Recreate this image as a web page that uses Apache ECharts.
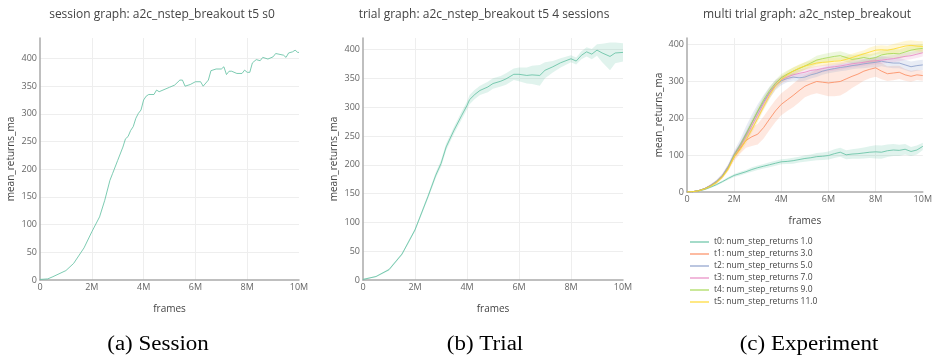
<!DOCTYPE html>
<html>
<head>
<meta charset="utf-8">
<script src="https://cdn.jsdelivr.net/npm/echarts@6/dist/echarts.min.js"></script>
<style>
  html, body { margin: 0; padding: 0; background: #fff; }
  #chart { width: 935px; height: 356px; }
</style>
</head>
<body>
<div id="chart"></div>
<script>
// x ticks (millions of frames)
const xTicks = [0, 2, 4, 6, 8, 10]
const xTickLabels = ['0', '2M', '4M', '6M', '8M', '10M']

// (a) session graph
const sessionX = [0, 0.3, 0.5, 1.0, 1.3, 1.7, 2.0, 2.3, 2.5, 2.7, 2.8, 2.9, 3.0, 3.05, 3.2, 3.3, 3.4, 3.5, 3.6, 3.7, 3.8, 3.9, 4.0, 4.1, 4.2, 4.4, 4.5, 4.6, 5.0, 5.2, 5.4, 5.5, 5.6, 5.8, 6.0, 6.2, 6.3, 6.5, 6.6, 6.8, 7.0, 7.1, 7.2, 7.3, 7.4, 7.6, 7.8, 7.9, 8.0, 8.1, 8.2, 8.35, 8.5, 8.6, 8.8, 9.0, 9.1, 9.4, 9.5, 9.6, 9.75, 9.85, 9.95, 10]
const sessionY = [1, 2, 6, 17, 30, 58, 87, 114, 144, 180, 192, 204, 216, 213, 240, 255, 259, 270, 277, 292, 301, 307, 325, 332, 335, 335, 343, 340, 348, 352, 361, 361, 350, 353, 358, 358, 350, 361, 378, 381, 381, 385, 371, 377, 377, 373, 373, 379, 375, 375, 392, 398, 396, 402, 399, 403, 409, 406, 402, 410, 412, 415, 411, 411]

// (b) trial graph: mean of 4 sessions and half width of the band
const trialX = [0, 0.5, 1.0, 1.5, 2.0, 2.5, 2.8, 3.0, 3.2, 3.5, 3.8, 4.0, 4.1, 4.3, 4.5, 4.8, 5.0, 5.3, 5.5, 5.8, 6.0, 6.3, 6.5, 6.8, 7.0, 7.3, 7.6, 8.0, 8.2, 8.4, 8.6, 8.8, 9.0, 9.2, 9.5, 9.7, 10]
const trialMean = [1, 6, 18, 45, 87, 145, 182, 202, 231, 260, 286, 303, 313, 322, 329, 335, 341, 345, 349, 357, 357, 355, 356, 355, 364, 370, 377, 384, 380, 390, 396, 392, 399, 394, 388, 394, 395]
const trialSpread = [1, 1, 2, 2, 3, 4, 5, 6, 6, 6, 7, 7, 8, 8, 8, 9, 9, 9, 10, 10, 12, 14, 16, 18, 14, 10, 8, 6, 6, 7, 8, 9, 10, 16, 24, 18, 16]

// (c) multi trial graph, every 0.25M frames
const expX = [0, 0.25, 0.5, 0.75, 1, 1.25, 1.5, 1.75, 2, 2.25, 2.5, 2.75, 3, 3.25, 3.5, 3.75, 4, 4.25, 4.5, 4.75, 5, 5.25, 5.5, 5.75, 6, 6.25, 6.5, 6.75, 7, 7.25, 7.5, 7.75, 8, 8.25, 8.5, 8.75, 9, 9.25, 9.5, 9.75, 10]
const expNames = ['t0: num_step_returns 1.0', 't1: num_step_returns 3.0', 't2: num_step_returns 5.0', 't3: num_step_returns 7.0', 't4: num_step_returns 9.0', 't5: num_step_returns 11.0']
const t0Mean = [0, 1, 3, 7, 13, 20, 28, 37, 45, 50, 55, 61, 66, 70, 74, 78, 82, 83, 85, 88, 91, 93, 96, 97, 99, 104, 108, 101, 103, 104, 106, 108, 109, 108, 112, 114, 113, 116, 110, 114, 124]
const t1Mean = [0, 1, 4, 9, 17, 27, 42, 65, 95, 118, 140, 150, 157, 175, 198, 220, 238, 250, 262, 275, 287, 294, 300, 298, 296, 298, 300, 307, 314, 320, 328, 333, 337, 328, 321, 323, 325, 318, 314, 318, 316]
const t2Mean = [0, 1, 4, 9, 18, 29, 45, 70, 102, 128, 158, 188, 218, 245, 270, 290, 302, 308, 312, 310, 312, 318, 322, 328, 332, 335, 338, 340, 343, 345, 348, 350, 352, 355, 352, 350, 350, 345, 340, 343, 345]
const t3Mean = [0, 1, 4, 9, 18, 28, 44, 68, 100, 122, 150, 180, 210, 240, 268, 290, 305, 312, 318, 322, 325, 330, 332, 335, 338, 340, 342, 345, 348, 350, 352, 355, 356, 358, 360, 362, 365, 368, 370, 374, 378]
const t4Mean = [0, 1, 4, 9, 17, 28, 43, 67, 100, 125, 155, 188, 220, 250, 275, 295, 310, 320, 328, 335, 342, 350, 358, 362, 365, 368, 370, 365, 360, 362, 365, 362, 365, 372, 375, 376, 375, 380, 385, 388, 390]
const t5Mean = [0, 1, 3, 8, 15, 25, 40, 62, 95, 115, 140, 170, 200, 232, 262, 288, 305, 318, 328, 336, 342, 346, 350, 352, 353, 355, 356, 360, 365, 370, 375, 380, 385, 386, 385, 388, 392, 396, 398, 396, 395]
const t0Spread = [0, 1, 1, 2, 2, 3, 3, 4, 4, 5, 5, 6, 6, 6, 7, 7, 7, 7, 8, 8, 9, 9, 10, 10, 11, 12, 12, 12, 13, 14, 15, 16, 18, 18, 17, 16, 15, 14, 12, 12, 10]
const t1Spread = [0, 1, 1, 2, 3, 4, 5, 7, 10, 14, 20, 25, 28, 30, 30, 30, 30, 30, 32, 32, 30, 30, 32, 34, 36, 38, 38, 36, 32, 28, 26, 24, 24, 22, 20, 20, 18, 16, 15, 14, 14]
const t2Spread = [0, 1, 1, 2, 3, 4, 5, 7, 10, 14, 20, 22, 20, 18, 16, 14, 12, 10, 10, 10, 10, 10, 10, 10, 10, 10, 10, 10, 10, 10, 12, 12, 14, 14, 14, 14, 14, 14, 14, 14, 14]
const t3Spread = [0, 1, 1, 2, 3, 4, 5, 6, 8, 10, 12, 14, 14, 14, 12, 10, 10, 10, 10, 10, 10, 10, 10, 10, 10, 10, 10, 10, 10, 10, 10, 10, 10, 10, 10, 10, 10, 10, 10, 10, 10]
const t4Spread = [0, 1, 1, 2, 3, 3, 4, 5, 6, 8, 10, 10, 10, 10, 10, 10, 10, 10, 10, 10, 10, 10, 12, 12, 12, 12, 12, 12, 12, 12, 12, 12, 12, 12, 12, 12, 12, 12, 12, 12, 12]
const t5Spread = [0, 1, 1, 2, 3, 3, 4, 5, 6, 8, 10, 10, 10, 10, 10, 10, 10, 10, 10, 10, 10, 10, 10, 10, 10, 10, 10, 10, 10, 10, 10, 12, 12, 12, 12, 14, 14, 14, 14, 14, 14]

const FONT = '"Open Sans", sans-serif'
const colors = [[102, 194, 165], [252, 141, 98], [141, 160, 203], [231, 138, 195], [166, 216, 84], [255, 217, 47]]
const rgba = (c, a) => `rgba(${c[0]},${c[1]},${c[2]},${a})`

const chart = echarts.init(document.getElementById('chart'))

// band drawn as one polygon through the axis scales
function bandSeries(idx, xs, mean, spread, color) {
  return {
    type: 'custom',
    xAxisIndex: idx,
    yAxisIndex: idx,
    silent: true,
    clip: true,
    z: 1,
    data: xs.map((x, i) => [x, mean[i] - spread[i], mean[i] + spread[i]]),
    encode: { x: 0, y: [1, 2] },
    renderItem: function (params, api) {
      if (params.dataIndex !== 0) return
      const top = xs.map((x, i) => api.coord([x, mean[i] + spread[i]]))
      const bottom = xs.map((x, i) => api.coord([x, mean[i] - spread[i]])).reverse()
      return { type: 'polygon', shape: { points: top.concat(bottom) }, style: { fill: color } }
    }
  }
}

function lineSeries(idx, name, xs, ys, color) {
  return {
    type: 'line',
    name: name,
    xAxisIndex: idx,
    yAxisIndex: idx,
    data: xs.map((x, i) => [x, ys[i]]),
    showSymbol: false,
    symbol: 'none',
    color: color,
    lineStyle: { width: 1, color: color },
    z: 2
  }
}

function xAxisFor(idx) {
  return {
    gridIndex: idx,
    type: 'value',
    min: 0,
    max: 10,
    interval: 2,
    name: 'frames',
    nameLocation: 'middle',
    nameGap: 24,
    nameTextStyle: { fontSize: 10, color: '#444', fontFamily: FONT },
    axisLine: { show: true, onZero: false, lineStyle: { color: '#aaa', width: 1.5 } },
    axisTick: { show: false },
    axisLabel: {
      fontSize: 9, color: '#666', margin: 3, fontFamily: FONT,
      formatter: v => xTickLabels[xTicks.indexOf(v)] || ''
    },
    splitLine: { show: true, showMinLine: false, showMaxLine: false, lineStyle: { color: '#eee' } }
  }
}

function yAxisFor(idx, max, step, gap) {
  return {
    gridIndex: idx,
    type: 'value',
    min: 0,
    max: max,
    interval: step,
    name: 'mean_returns_ma',
    nameLocation: 'middle',
    nameGap: gap,
    nameTextStyle: { fontSize: 10, color: '#444', fontFamily: FONT },
    axisLine: { show: true, onZero: false, lineStyle: { color: '#aaa', width: 1.5 } },
    axisTick: { show: false },
    axisLabel: { fontSize: 9, color: '#666', margin: 3, fontFamily: FONT, showMaxLabel: false },
    splitLine: { show: true, showMinLine: false, showMaxLine: false, lineStyle: { color: '#eee' } }
  }
}

const expMeans = [t0Mean, t1Mean, t2Mean, t3Mean, t4Mean, t5Mean]
const expSpreads = [t0Spread, t1Spread, t2Spread, t3Spread, t4Spread, t5Spread]

const series = [
  lineSeries(0, 'session', sessionX, sessionY, rgba(colors[0], 0.85)),
  bandSeries(1, trialX, trialMean, trialSpread, rgba(colors[0], 0.2)),
  lineSeries(1, 'trial', trialX, trialMean, rgba(colors[0], 0.85))
]
expMeans.forEach((m, i) => series.push(bandSeries(2, expX, m, expSpreads[i], rgba(colors[i], 0.2))))
expMeans.forEach((m, i) => series.push(lineSeries(2, expNames[i], expX, m, rgba(colors[i], 0.85))))

function label(text, x, y, font, fill, sx) {
  return {
    type: 'text', x: x, y: y, scaleX: sx || 1, silent: true,
    style: { text: text, font: font, fill: fill, textAlign: 'center', textVerticalAlign: 'middle' }
  }
}

const CAPTION = '20px "Liberation Serif", serif'

const option = {
  animation: false,
  backgroundColor: '#fff',
  grid: [
    { left: 40, top: 38, width: 259, height: 242 },
    { left: 363, top: 38, width: 260, height: 242 },
    { left: 687, top: 38, width: 240, height: 154 }
  ],
  xAxis: [xAxisFor(0), xAxisFor(1), xAxisFor(2)],
  yAxis: [yAxisFor(0, 437, 50, 24), yAxisFor(1, 420, 50, 24), yAxisFor(2, 418, 100, 23)],
  legend: {
    data: expNames.map(n => ({ name: n, itemStyle: { opacity: 0.7 } })),
    orient: 'vertical',
    left: 685,
    top: 232,
    icon: 'rect',
    itemWidth: 19,
    itemHeight: 2,
    itemGap: 2,
    selectedMode: false,
    textStyle: { fontSize: 8.5, color: '#444', fontFamily: FONT, lineHeight: 10 }
  },
  graphic: [
    label('session graph: a2c_nstep_breakout t5 s0', 162, 15, '12px ' + FONT, '#444'),
    label('trial graph: a2c_nstep_breakout t5 4 sessions', 484, 15, '12px ' + FONT, '#444'),
    label('multi trial graph: a2c_nstep_breakout', 807, 15, '12px ' + FONT, '#444'),
    label('(a) Session', 158, 345, CAPTION, '#000', 1.15),
    label('(b) Trial', 485, 345, CAPTION, '#000', 1.15),
    label('(c) Experiment', 809, 345, CAPTION, '#000', 1.15)
  ],
  series: series
}

chart.setOption(option)
</script>
</body>
</html>
